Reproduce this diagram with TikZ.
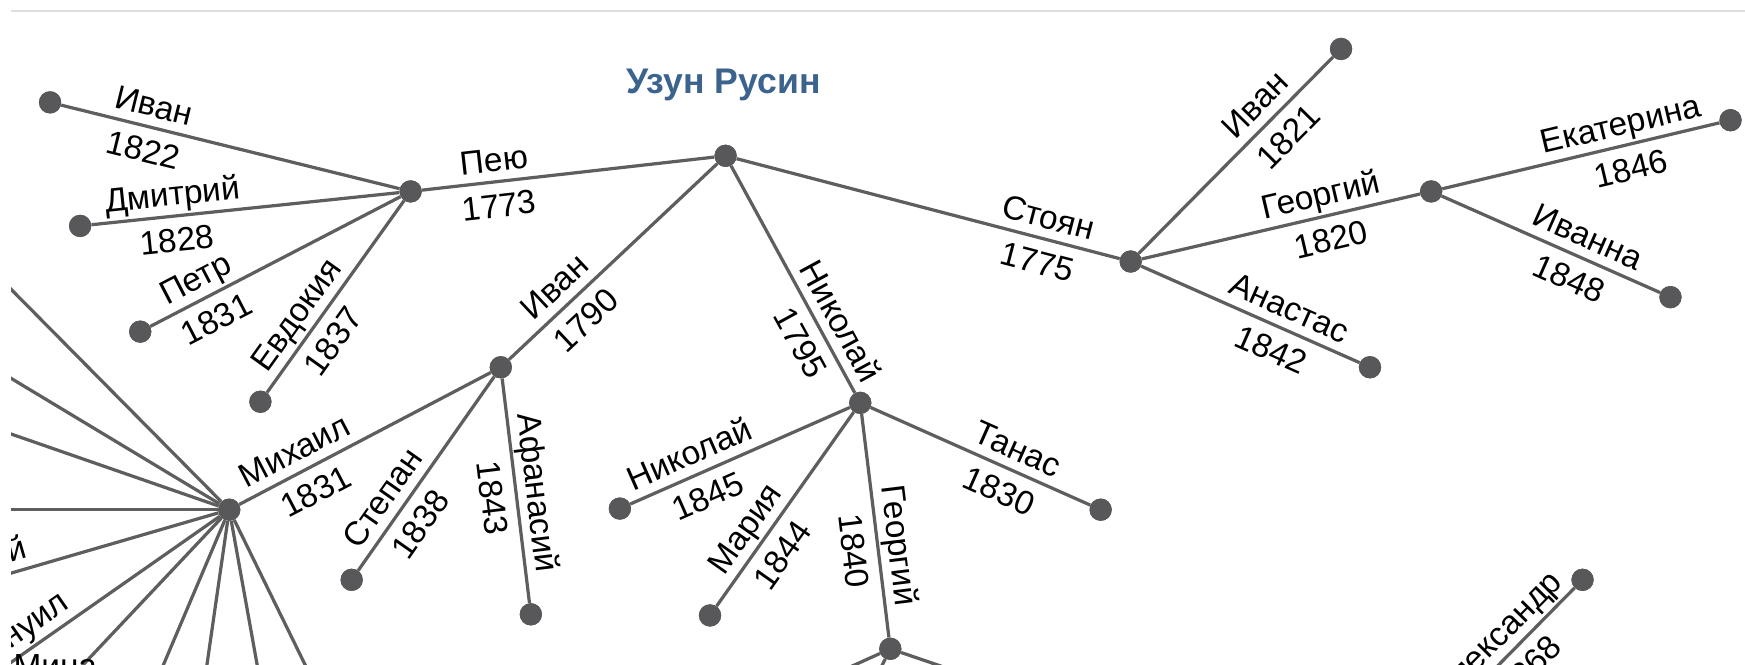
\documentclass[tikz,border=0pt]{standalone}
\usepackage{fontspec}
\setmainfont{Liberation Sans}
\usetikzlibrary{calc}
\definecolor{edgec}{RGB}{94,94,94}
\definecolor{dotc}{RGB}{88,88,90}
\definecolor{titlec}{RGB}{59,99,141}
\definecolor{framec}{RGB}{222,222,222}
\newcommand{\lblfont}{\fontsize{30}{36}\selectfont}
\tikzset{
  dot/.style={circle, fill=dotc, inner sep=0pt, minimum size=20pt},
  edge/.style={draw=edgec, line width=2.9pt},
  nm/.style={sloped, anchor=south, inner xsep=0pt, inner ysep=8pt, text depth=0pt, font=\lblfont},
  yr/.style={sloped, anchor=north, inner xsep=0pt, inner ysep=9pt, text height=21.5pt, text depth=0pt, font=\lblfont},
  titlestyle/.style={font=\bfseries\fontsize{32}{38}\selectfont, text=titlec, inner sep=0pt},
}
\begin{document}
\begin{tikzpicture}[x=1pt,y=1pt]
\useasboundingbox (0,0) rectangle (1568,-597);
\draw[framec, line width=2pt] (10,-10) -- (1568,-10);
\begin{scope}
\clip (10,-11) rectangle (1568,-597);
% title
\node[titlestyle] (title) at (650,-76) {Узун Русин};
% nodes
\node[dot] (R) at (652,-140) {};
\node[dot] (P) at (369,-172) {};
\node[dot] (L1) at (45,-92) {};
\node[dot] (L2) at (72,-203) {};
\node[dot] (L3) at (126,-298) {};
\node[dot] (L4) at (234,-361) {};
\node[dot] (I) at (450,-330) {};
\node[dot] (M) at (206,-458) {};
\node[dot] (L5) at (316,-521) {};
\node[dot] (L6) at (477,-552) {};
\node[dot] (N) at (773,-362) {};
\node[dot] (L7) at (557,-457) {};
\node[dot] (L8) at (638,-553) {};
\node[dot] (G) at (800,-583) {};
\node[dot] (L9) at (989,-458) {};
\node[dot] (S) at (1016,-235) {};
\node[dot] (L10) at (1205,-44) {};
\node[dot] (H) at (1286,-172) {};
\node[dot] (L11) at (1231,-330) {};
\node[dot] (L12) at (1555,-108) {};
\node[dot] (L13) at (1501,-267) {};
\node[dot] (L14) at (1422,-521) {};
% off-picture ends
\coordinate (m1) at (-88,-161);
\coordinate (m2) at (-88,-281);
\coordinate (m3) at (-88,-356);
\coordinate (m4) at (-88,-458);
\coordinate (m5) at (-200,-576);
\coordinate (m6) at (-200,-742);
\coordinate (m7) at (-56,-736);
\coordinate (m8) at (88,-736);
\coordinate (m9) at (166,-736);
\coordinate (m10) at (256,-736);
\coordinate (m11) at (342,-736);
\coordinate (g1) at (676,-639);
\coordinate (g2) at (772,-639);
\coordinate (g3) at (964,-639);
\coordinate (a1) at (1211,-735);
% edges
\draw[edge] (P) -- node[nm,pos=.255]{Пею} node[yr,pos=.255]{1773} (R);
\draw[edge] (L1) -- node[nm,pos=.26]{Иван} node[yr,pos=.26]{1822} (P);
\draw[edge] (L2) -- node[nm,pos=.27]{Дмитрий} node[yr,pos=.27]{1828} (P);
\draw[edge] (L3) -- node[nm,pos=.22]{Петр} node[yr,pos=.22]{1831} (P);
\draw[edge] (L4) -- node[nm,pos=.34]{Евдокия} node[yr,pos=.34]{1837} (P);
\draw[edge] (I) -- node[nm,pos=.29]{Иван} node[yr,pos=.29]{1790} (R);
\draw[edge] (M) -- node[nm,pos=.26]{Михаил} node[yr,pos=.26]{1831} (I);
\draw[edge] (L5) -- node[nm,pos=.31]{Степан} node[yr,pos=.31]{1838} (I);
\draw[edge] (L6) -- node[nm,pos=.48]{Афанасий} node[yr,pos=.48]{1843} (I);
\draw[edge] (N) -- node[nm,pos=.27]{Николай} node[yr,pos=.27]{1795} (R);
\draw[edge] (L7) -- node[nm,pos=.31]{Николай} node[yr,pos=.31]{1845} (N);
\draw[edge] (L8) -- node[nm,pos=.335]{Мария} node[yr,pos=.335]{1844} (N);
\draw[edge] (G) -- node[nm,pos=.40]{Георгий} node[yr,pos=.40]{1840} (N);
\draw[edge] (L9) -- node[nm,pos=.37]{Танас} node[yr,pos=.37]{1830} (N);
\draw[edge] (S) -- node[nm,pos=.20]{Стоян} node[yr,pos=.20]{1775} (R);
\draw[edge] (L10) -- node[nm,pos=.32]{Иван} node[yr,pos=.32]{1821} (S);
\draw[edge] (H) -- node[nm,pos=.34]{Георгий} node[yr,pos=.34]{1820} (S);
\draw[edge] (L11) -- node[nm,pos=.36]{Анастас} node[yr,pos=.36]{1842} (S);
\draw[edge] (L12) -- node[nm,pos=.34]{Екатерина} node[yr,pos=.34]{1846} (H);
\draw[edge] (L13) -- node[nm,pos=.37]{Иванна} node[yr,pos=.37]{1848} (H);
\draw[edge] (L14) -- node[nm,pos=.273]{Александр} node[yr,pos=.273]{1868} (a1);
% fan of Mikhail
\draw[edge] (M) -- (m1);
\draw[edge] (M) -- (m2);
\draw[edge] (M) -- (m3);
\draw[edge] (M) -- (m4);
\draw[edge] (M) -- node[nm,pos=.557]{Георгий} (m5);
\draw[edge] (M) -- node[nm,pos=.45]{Емануил} (m6);
\draw[edge] (M) -- (m7);
\draw[edge] (M) -- (m8);
\draw[edge] (M) -- (m9);
\draw[edge] (M) -- (m10);
\draw[edge] (M) -- (m11);
% children of Georgi 1840
\draw[edge] (G) -- (g1);
\draw[edge] (G) -- (g2);
\draw[edge] (G) -- (g3);
\node[font=\lblfont, anchor=north west, inner sep=0pt] (cut) at (12,-588) {Мина};
% dots on top
\foreach \n in {R,P,L1,L2,L3,L4,I,M,L5,L6,N,L7,L8,G,L9,S,L10,H,L11,L12,L13,L14}
  \fill[dotc] (\n) circle (10pt);
\end{scope}
\end{tikzpicture}
\end{document}
